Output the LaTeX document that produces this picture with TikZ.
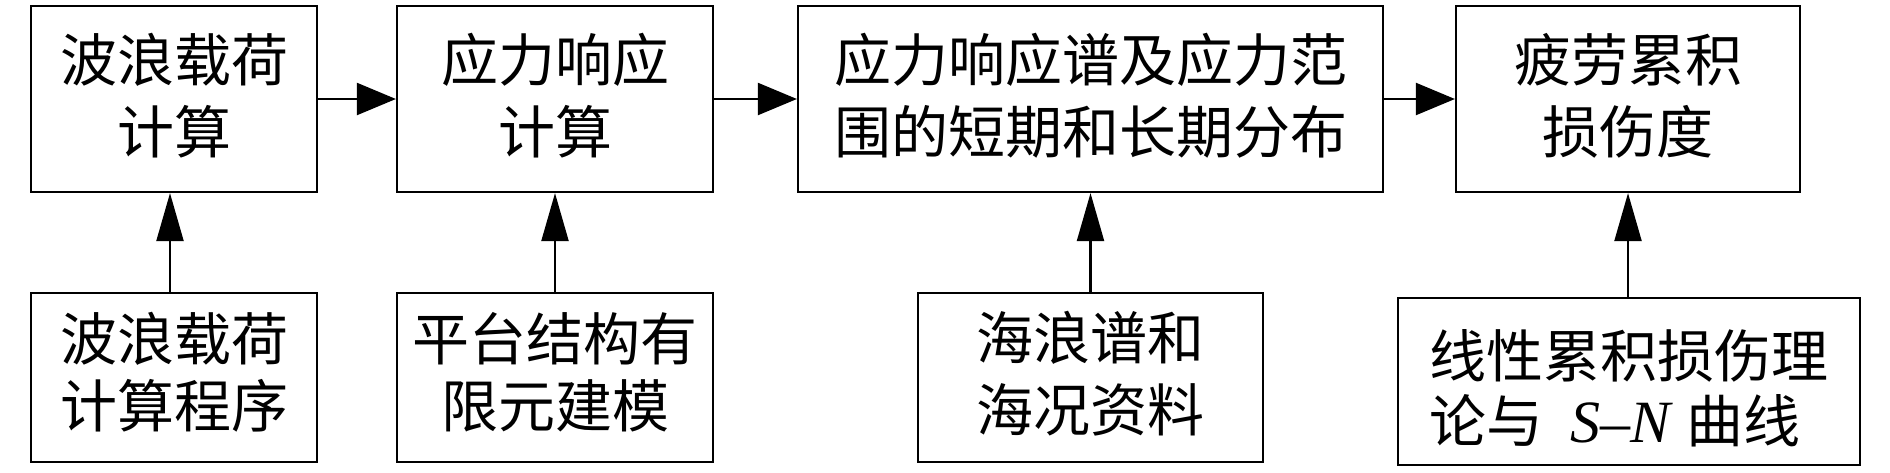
\documentclass[tikz,border=0pt]{standalone}
\usepackage{fontspec}
\newfontfamily\cjk{Noto Sans CJK SC}
\newfontfamily\tnr{Liberation Serif}
\usetikzlibrary{arrows.meta}
\newcommand\tp[1]{\rule{0pt}{#1}}
\newcommand\bt[1]{\rule[-#1]{0pt}{0pt}}
\begin{document}
\begin{tikzpicture}[x=1pt,y=-1pt,
  box/.style={draw, line width=2.2pt, inner sep=0pt, align=center,
    font=\cjk\fontsize{57}{72}\selectfont},
  harrow/.style={line width=2.2pt, -{Triangle[length=39pt,width=32pt]}},
  varrow/.style={line width=2.2pt, -{Triangle[length=48pt,width=27pt]}}]
\useasboundingbox (0,0) rectangle (1890,472);
\fill[white] (0,0) rectangle (1890,472);
% top row
\node[box, minimum width=286pt, minimum height=186pt] (b1) at (174,99) {\tp{57.4pt}波浪载荷\\计算\bt{20pt}};
\node[box, minimum width=316pt, minimum height=186pt] (b2) at (555,99) {\tp{57.4pt}应力响应\\计算\bt{20pt}};
\node[box, minimum width=585pt, minimum height=186pt] (b3) at (1090.5,99) {\tp{57.4pt}应力响应谱及应力范\\围的短期和长期分布\bt{20pt}};
\node[box, minimum width=344pt, minimum height=186pt] (b4) at (1628,99) {\tp{57.4pt}疲劳累积\\损伤度\bt{20pt}};
% bottom row
\node[box, font=\cjk\fontsize{57}{67}\selectfont, minimum width=286pt, minimum height=169pt] (b5) at (174,377.5) {\tp{57.4pt}波浪载荷\\计算程序\bt{24pt}};
\node[box, font=\cjk\fontsize{57}{67}\selectfont, minimum width=316pt, minimum height=169pt] (b6) at (555,377.5) {\tp{57.4pt}平台结构有\\限元建模\bt{24pt}};
\node[box, minimum width=345pt, minimum height=169pt] (b7) at (1090.5,377.5) {\tp{57.4pt}海浪谱和\\海况资料\bt{21pt}};
\node[box, align=left, font=\cjk\fontsize{57}{65}\selectfont, minimum width=462pt, minimum height=167pt] (b8) at (1629,381.5)
  {\tp{62.4pt}线性累积损伤理\\论与\hspace{27pt}{\tnr\itshape\fontsize{60}{65}\selectfont S–N}\hspace{16pt}曲线\bt{5pt}};
% horizontal arrows
\draw[harrow] (b1.east) -- (b2.west);
\draw[harrow] (b2.east) -- (b3.west);
\draw[harrow] (b3.east) -- (b4.west);
% vertical arrows
\draw[varrow] ([xshift=-4pt]b5.north) -- ([xshift=-4pt]b1.south);
\draw[varrow] (b6.north) -- (b2.south);
\draw[varrow] (b7.north) -- (b3.south);
\draw[varrow] (b8.north -| b4.south) -- (b4.south);
\end{tikzpicture}
\end{document}
